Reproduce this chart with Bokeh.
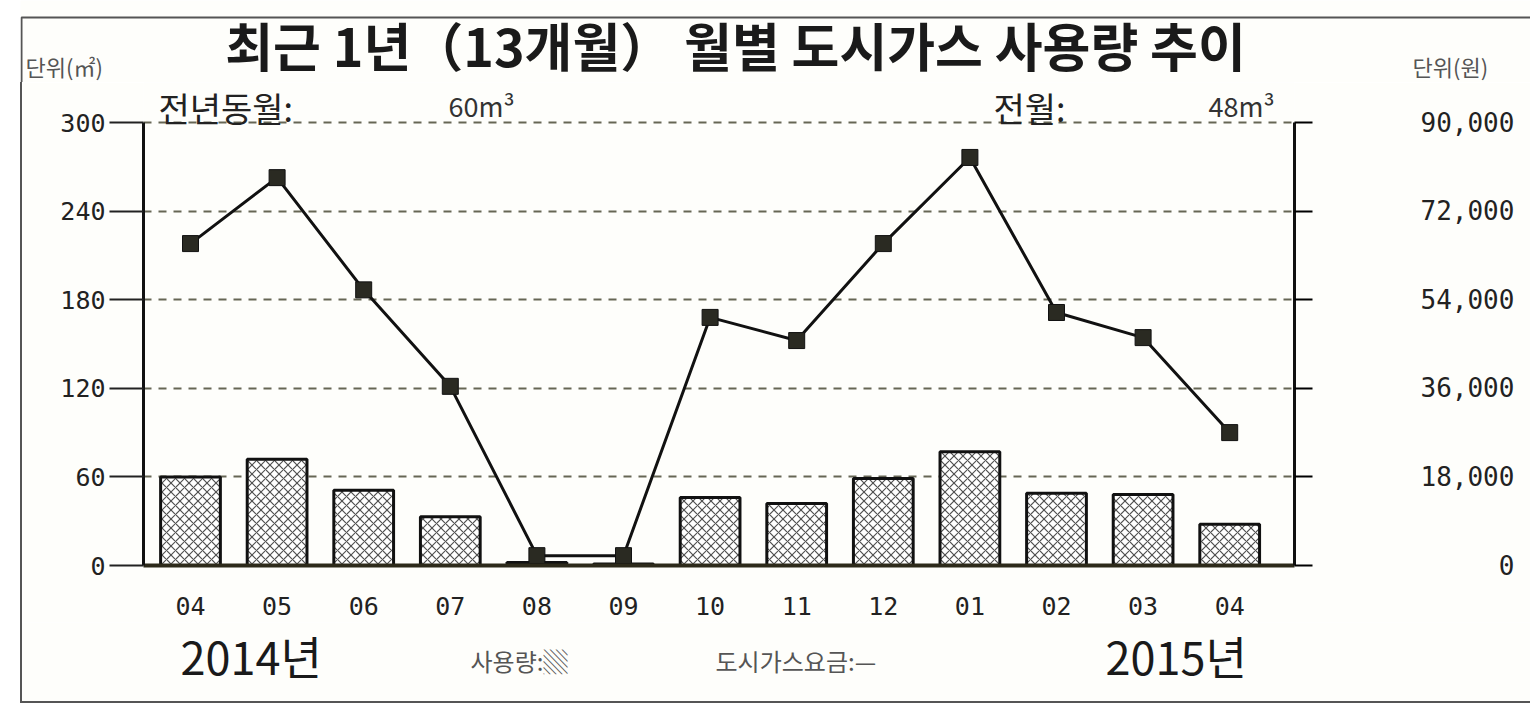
from bokeh.plotting import figure
from bokeh.models import Range1d, LinearAxis, Label
from bokeh.layouts import column
from bokeh.embed import file_html
from bokeh.resources import INLINE

# ---- data ----
months = ["04", "05", "06", "07", "08", "09", "10", "11", "12", "01", "02", "03", "04"]
usage = [60, 72, 51, 33, 2, 1, 46, 42, 59, 77, 49, 48, 28]          # m³
cost = [65400, 78800, 56000, 36400, 2000, 2000, 50400, 45700, 65400, 82900, 51400, 46300, 27000]  # 원
left_ticks = [0, 60, 120, 180, 240, 300]
right_ticks = [0, 18000, 36000, 54000, 72000, 90000]
grid_ticks = [60, 120, 180, 240, 300]

BG = "#fefefb"
KR = "Noto Sans CJK KR"
MONO = "DejaVu Sans Mono"
BORDER = "#555555"

# page geometry: outer box starts at page x 20 (left border 20..22), top border at y 16
TX = 20           # page x of the top strip
OX = 22           # page x of chart/bottom content (after the left border)
TOP_W = 1510
W = 1508
TOP_H = 82
MID_Y = TOP_H                 # page y where the chart figure starts
MID_H = 540
BOT_Y = MID_Y + MID_H         # 622
BOT_H = 79

# ---------- main chart ----------
FL, FR, FT, FB = 143 - OX, 1294 - OX, 0, 565 - MID_Y
PX_PER_CAT = 86.6
CAT0 = 190 - OX
PX_PER_UNIT = 443 / 300.0
x0 = (FL - CAT0) / PX_PER_CAT
x1 = (FR - CAT0) / PX_PER_CAT
ytop = (FB - FT) / PX_PER_UNIT

p = figure(width=W, height=MID_H, output_backend="svg", toolbar_location=None,
           x_range=Range1d(x0, x1), y_range=Range1d(0, ytop),
           min_border_left=FL, min_border_right=W - FR,
           min_border_top=FT, min_border_bottom=MID_H - FB,
           background_fill_color=BG, border_fill_color=BG)
p.frame_align = False
p.outline_line_color = None
p.extra_y_ranges = {"cost": Range1d(0, ytop * 300)}

idx = list(range(len(months)))

p.xgrid.visible = False
p.ygrid.ticker = grid_ticks
p.ygrid.grid_line_color = "#666655"
p.ygrid.grid_line_width = 2
p.ygrid.grid_line_dash = "8 7"

ya = p.yaxis[0]
ya.ticker = left_ticks
ya.bounds = (0, 300)
ya.axis_line_width = 3
ya.axis_line_color = "#111111"
ya.major_tick_out = 34
ya.major_tick_in = 0
ya.major_tick_line_width = 2
ya.major_tick_line_color = "#222222"
ya.minor_tick_line_color = None
ya.major_label_standoff = 4
ya.major_label_text_font = MONO
ya.major_label_text_font_size = "25px"
ya.major_label_text_color = "#222222"

ra = LinearAxis(y_range_name="cost", ticker=right_ticks, bounds=(0, 90000))
ra.major_label_overrides = {t: f"{t:,}".rjust(6, "\u00a0") for t in right_ticks}
ra.axis_line_width = 3
ra.axis_line_color = "#111111"
ra.major_tick_out = 18
ra.major_tick_in = 0
ra.major_tick_line_width = 2
ra.minor_tick_line_color = None
ra.major_label_standoff = 108
ra.major_label_text_font = MONO
ra.major_label_text_font_size = "26px"
ra.major_label_text_color = "#222222"
p.add_layout(ra, "right")

xa = p.xaxis[0]
xa.ticker = idx
xa.major_label_overrides = {i: m for i, m in zip(idx, months)}
xa.axis_line_width = 4
xa.axis_line_color = "#2d2a1a"
xa.major_tick_line_color = None
xa.minor_tick_line_color = None
xa.major_label_standoff = 25
xa.major_label_text_font = MONO
xa.major_label_text_font_size = "25px"
xa.major_label_text_color = "#222222"

p.vbar(x=idx, top=usage, width=0.69, bottom=0,
       fill_color="#ffffff", line_color="#111111", line_width=3,
       hatch_pattern="diagonal_cross", hatch_color="#505050",
       hatch_weight=1.2, hatch_scale=9)

p.line(x=idx, y=cost, y_range_name="cost", line_color="#111111", line_width=3)
p.scatter(x=idx, y=cost, y_range_name="cost", marker="square", size=16,
          fill_color="#2a2a22", line_color="#111111")


def mlab(text, rx, ry, size, color="#222222"):
    # rx, ry: position in page pixels, converted to the chart's data coords
    p.add_layout(Label(x=(rx - OX - CAT0) / PX_PER_CAT, y=(FB - (ry - MID_Y)) / PX_PER_UNIT,
                       text=text, text_align="left", text_baseline="middle",
                       text_font=KR, text_font_size=f"{size}px", text_color=color))


mlab("전년동월:", 158, 107, 34)
mlab("60m³", 448, 105, 27, color="#333333")
mlab("전월:", 993, 107, 34)
mlab("48m³", 1208, 105, 27, color="#333333")


# ---------- text strips (pixel-like coordinates) ----------
def strip(w, h, page_x, page_y):
    f = figure(width=w, height=h, output_backend="svg", toolbar_location=None,
               x_range=Range1d(0, w), y_range=Range1d(h, 0),
               x_axis_location=None, y_axis_location=None,
               min_border=0, background_fill_color=BG, border_fill_color=BG)
    f.frame_align = False
    f.grid.visible = False
    f.outline_line_color = None
    f._page = (page_x, page_y)
    return f


top = strip(TOP_W, TOP_H, TX, 0)
bot = strip(W, BOT_H, OX, BOT_Y)


def slab(f, text, rx, ry, size, align="left", color="#222222", style="normal"):
    f.add_layout(Label(x=rx - f._page[0], y=ry - f._page[1], text=text, text_align=align,
                       text_baseline="middle", text_font=KR,
                       text_font_size=f"{size}px", text_color=color,
                       text_font_style=style))


# top and upper-left part of the outer box (top border at page y 16..18)
top.line(x=[1, 1, TOP_W], y=[TOP_H, 17, 17], line_color=BORDER, line_width=2)

slab(top, "최근 1년（13개월） 월별 도시가스 사용량 추이", 735, 44, 52, align="center",
     color="#1a1a1a", style="bold")
slab(top, "단위(㎡)", 25, 65, 22, color="#555555")
slab(top, "단위(원)", 1412, 65, 22, color="#555555")

slab(bot, "2014년", 180, 655, 45, color="#1a1a1a")
slab(bot, "사용량:▒", 470, 660, 24, color="#555555")
slab(bot, "도시가스요금:—", 715, 660, 24, color="#555555")
slab(bot, "2015년", 1105, 655, 45, color="#1a1a1a")

inner = column(p, bot, spacing=0)
inner.styles = {"border-left": f"2px solid {BORDER}", "border-bottom": f"2px solid {BORDER}"}
layout = column(top, inner, spacing=0)
layout.styles = {"margin-left": f"{TX}px"}

open("out.html", "w").write(file_html(layout, INLINE))
